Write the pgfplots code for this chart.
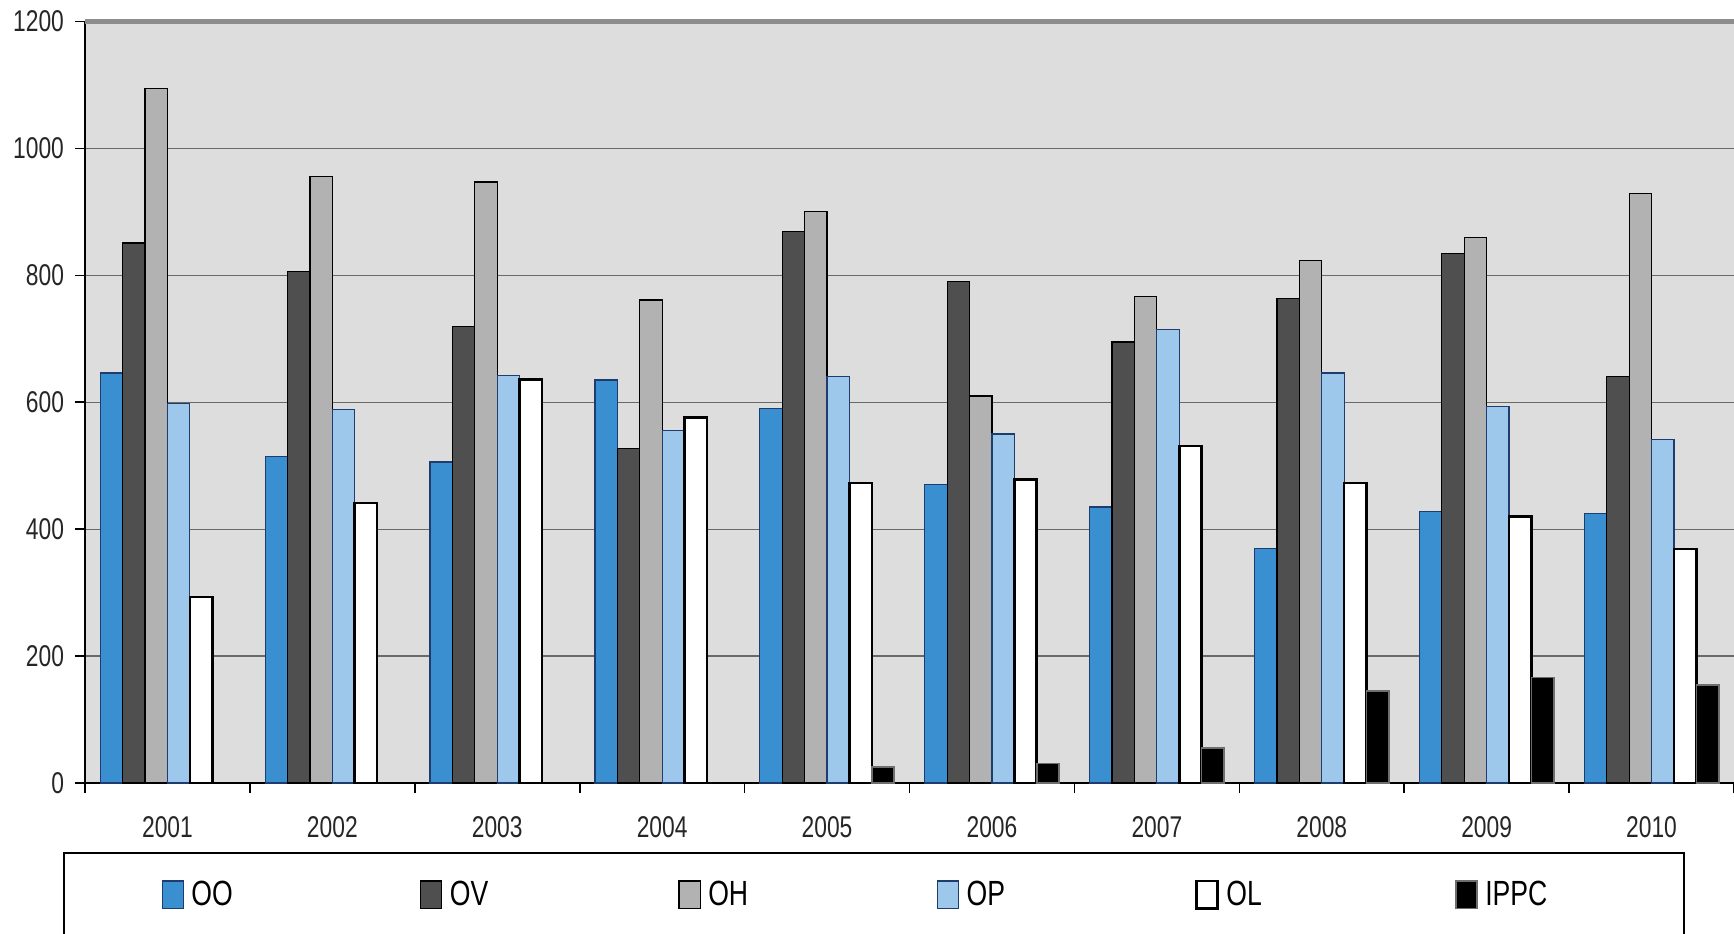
\documentclass[border=0pt]{standalone}
\usepackage{fontspec}
\usepackage{pgfplots}
\usepackage{pgfplotstable}
\pgfplotsset{compat=1.18}
\setmainfont{Liberation Sans}
\newfontfamily\chartfont[FakeStretch=0.76]{Liberation Sans}

\definecolor{cOO}{RGB}{58,143,208}
\definecolor{cOOedge}{RGB}{30,60,110}
\definecolor{cOV}{RGB}{79,79,79}
\definecolor{cOH}{RGB}{178,178,178}
\definecolor{cOP}{RGB}{157,200,236}
\definecolor{cIPPCedge}{RGB}{110,110,110}
\definecolor{plotbg}{RGB}{221,221,221}
\definecolor{gridc}{RGB}{105,105,105}
\definecolor{topc}{RGB}{140,140,140}

% yearly counts per category (x = 1 for 2001 ... 10 for 2010)
\pgfplotstableread{
x   OO   OV   OH    OP   OL
1   646  851  1094  598  293
2   515  806  956   588  441
3   506  720  947   642  636
4   635  527  761   556  576
5   590  869  901   640  473
6   470  790  610   550  478
7   435  695  767   715  531
8   370  764  823   646  473
9   428  835  859   593  420
10  425  641  929   541  369
}\datatbl

\pgfplotstableread{
x   IPPC
5   25
6   31
7   55
8   145
9   166
10  154
}\ippctbl

% square legend swatch; the invisible path deepens the legend row
\pgfplotsset{
  legimg/.style={legend image code/.code={%
    \draw[##1] (0pt,-6.9pt) rectangle (10.5pt,6.9pt);
    \path (0pt,-30pt);}},
}

\begin{document}
\begin{tikzpicture}
\begin{axis}[
  scale only axis, width=824.5pt, height=380.75pt,
  xmin=0.5, xmax=10.5, ymin=0, ymax=1200,
  clip=false,
  ybar=0pt, bar width=11.2pt,
  axis background/.style={fill=plotbg},
  axis x line*=bottom, axis y line*=left,
  axis line style={-, black, line width=0.9pt},
  ytick={0,200,...,1200},
  ymajorgrids, grid style={gridc, line width=0.6pt},
  xtick={0.5,1.5,...,10.5}, xticklabels={},
  extra x ticks={1,2,3,4,5,6,7,8,9,10},
  extra x tick labels={2001,2002,2003,2004,2005,2006,2007,2008,2009,2010},
  extra x tick style={major tick length=0pt, grid=none,
    xticklabel style={yshift=-13pt}},
  tick align=outside, major tick length=5pt,
  tick style={black, line width=0.8pt},
  /pgf/number format/assume math mode=true,
  /pgf/number format/1000 sep={},
  tick label style={font=\chartfont\fontsize{15}{18}\selectfont, text=black!85},
  yticklabel style={xshift=-2pt},
  legend columns=6,
  legend style={at={(0,0)}, anchor=north west, xshift=-11pt, yshift=-34.5pt,
    draw=black, line width=1pt, inner xsep=48.85pt, inner ysep=12pt,
    font=\chartfont\fontsize{17.5}{21}\selectfont,
    nodes={inner xsep=3.8pt, text width=46.6pt, align=left},
    /tikz/every even column/.append style={column sep=63.9pt}},
]
\addplot[fill=cOO, draw=cOOedge, line width=0.6pt, legimg] table[x=x, y=OO] {\datatbl};
\addplot[fill=cOV, draw=black, line width=0.6pt, legimg] table[x=x, y=OV] {\datatbl};
\addplot[fill=cOH, draw=black, line width=0.6pt, legimg] table[x=x, y=OH] {\datatbl};
\addplot[fill=cOP, draw=cOOedge, line width=0.6pt, legimg] table[x=x, y=OP] {\datatbl};
\addplot[fill=white, draw=black, line width=1.3pt, legimg] table[x=x, y=OL] {\datatbl};
\addplot[fill=black, draw=cIPPCedge, line width=0.8pt, legimg] table[x=x, y=IPPC] {\ippctbl};
\legend{OO, OV, OH, OP, OL, IPPC}
% plot area top edge
\draw[topc, line width=2.5pt] (rel axis cs:0,1) -- (rel axis cs:1,1);
\end{axis}
\pgfresetboundingbox
\path (current axis.south west) ++(-42.5pt,-75pt) rectangle ++(867pt,466.5pt);
\end{tikzpicture}
\end{document}
